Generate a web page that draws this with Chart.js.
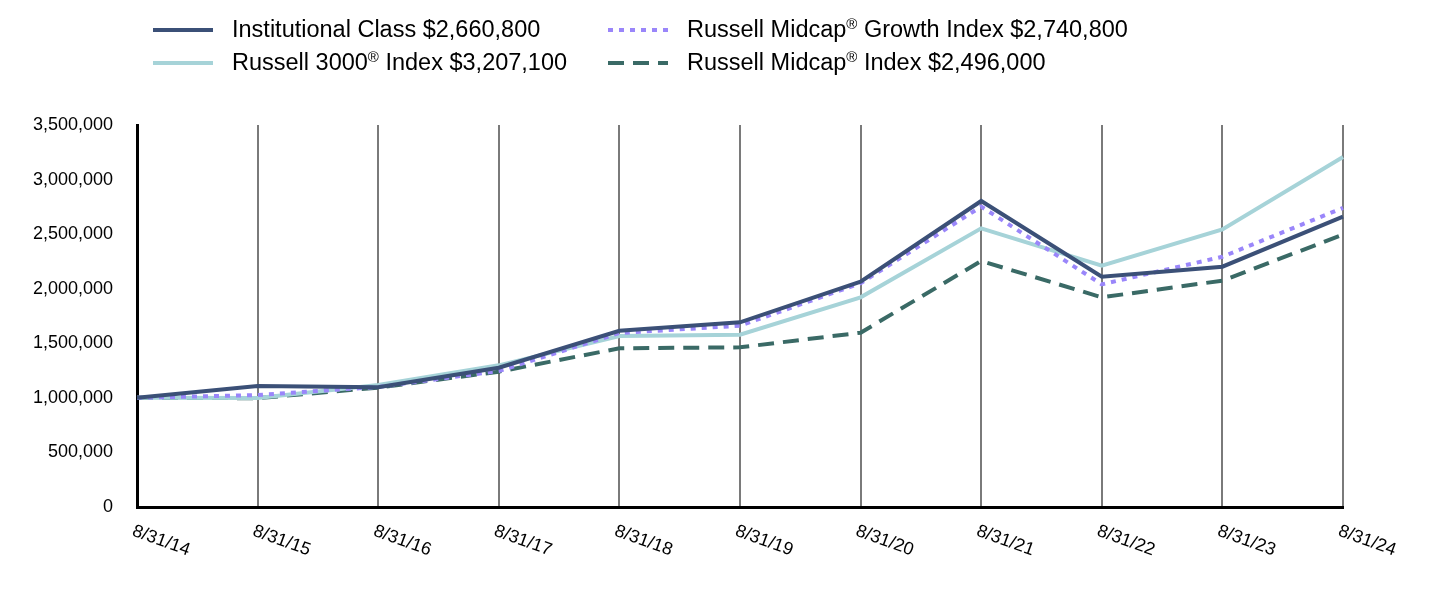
<!DOCTYPE html>
<html>
<head>
<meta charset="utf-8">
<script src="https://cdn.jsdelivr.net/npm/chart.js@4.4.1/dist/chart.umd.min.js"></script>
<style>
  html, body { margin: 0; padding: 0; background: #ffffff; }
  #wrap { position: relative; width: 1432px; height: 596px; }
  #chart { position: absolute; left: 0; top: 0; }
  .leg { position: absolute; font-family: "Liberation Sans", Arial, sans-serif; font-size: 23.5px; color: #000; white-space: nowrap; line-height: 1; }
  .leg sup { font-size: 15px; vertical-align: 0; position: relative; top: -8px; }
  .leg svg { position: absolute; }
</style>
</head>
<body>
<div id="wrap">
  <canvas id="chart" width="1432" height="596"></canvas>
</div>
<script>
// ---- data ----
const categories = ['8/31/14','8/31/15','8/31/16','8/31/17','8/31/18','8/31/19','8/31/20','8/31/21','8/31/22','8/31/23','8/31/24'];
const institutional = [1000000, 1109000, 1097000, 1276000, 1615000, 1692000, 2064000, 2804000, 2110000, 2202000, 2660800];
const russell3000   = [1000000,  998000, 1118000, 1298000, 1567000, 1579000, 1921000, 2553000, 2211000, 2544000, 3207100];
const midcapGrowth  = [1000000, 1026000, 1100000, 1246000, 1594000, 1661000, 2050000, 2752000, 2040000, 2293000, 2740800];
const midcap        = [1000000,  997000, 1094000, 1240000, 1454000, 1463000, 1597000, 2254000, 1921000, 2074000, 2496000];
const yTicks = [0, 500000, 1000000, 1500000, 2000000, 2500000, 3000000, 3500000];
const seriesNames = ['Institutional Class $2,660,800', 'Russell Midcap® Growth Index $2,740,800', 'Russell 3000® Index $3,207,100', 'Russell Midcap® Index $2,496,000'];

const COLORS = { inst: '#3b5077', r3000: '#a6d3d8', growth: '#9a86fa', midcap: '#3a6a66' };
const FONT = '"Liberation Sans", Arial, sans-serif';

// ---- legend (HTML, real text) ----
const legendItems = [
  { name: seriesNames[0], color: COLORS.inst,   dash: null,    col: 0, row: 0 },
  { name: seriesNames[2], color: COLORS.r3000,  dash: null,    col: 0, row: 1 },
  { name: seriesNames[1], color: COLORS.growth, dash: '5,6',   col: 1, row: 0 },
  { name: seriesNames[3], color: COLORS.midcap, dash: '16,9',  col: 1, row: 1 }
];
const colX = [153, 608];
const rowY = [29.5, 62.5];
const wrap = document.getElementById('wrap');
legendItems.forEach(it => {
  const d = document.createElement('div');
  d.className = 'leg';
  d.style.left = colX[it.col] + 'px';
  d.style.top = (rowY[it.row] - 12) + 'px';
  const svg = `<svg width="60" height="10" style="left:0;top:7px" xmlns="http://www.w3.org/2000/svg"><line x1="0" y1="5" x2="60" y2="5" stroke="${it.color}" stroke-width="4"${it.dash ? ` stroke-dasharray="${it.dash}"` : ''}/></svg>`;
  const label = it.name.replace('®', '<sup>®</sup>');
  d.innerHTML = svg + `<span style="position:absolute;left:79px;top:0">${label}</span>`;
  wrap.appendChild(d);
});

// ---- rotated x labels ----
const xLabelPlugin = {
  id: 'xLabels',
  afterDraw(chart) {
    const xs = chart.scales.x;
    const ctx = chart.ctx;
    ctx.save();
    ctx.font = '18px ' + FONT;
    ctx.fillStyle = '#000';
    ctx.textAlign = 'left';
    ctx.textBaseline = 'top';
    xs.ticks.forEach((t, i) => {
      const x = xs.getPixelForTick(i);
      ctx.save();
      ctx.translate(x - 1, 522);
      ctx.rotate(20 * Math.PI / 180);
      ctx.fillText(categories[i], 0, 0);
      ctx.restore();
    });
    ctx.restore();
  }
};

const common = { pointRadius: 0, pointHoverRadius: 0, tension: 0, fill: false, borderWidth: 4, borderCapStyle: 'butt', borderJoinStyle: 'miter' };

new Chart(document.getElementById('chart'), {
  type: 'line',
  data: {
    labels: categories,
    datasets: [
      Object.assign({ label: seriesNames[0], data: institutional, borderColor: COLORS.inst }, common),
      Object.assign({ label: seriesNames[1], data: midcapGrowth, borderColor: COLORS.growth, borderDash: [5, 6] }, common),
      Object.assign({ label: seriesNames[2], data: russell3000, borderColor: COLORS.r3000 }, common),
      Object.assign({ label: seriesNames[3], data: midcap, borderColor: COLORS.midcap, borderDash: [16, 9] }, common)
    ]
  },
  options: {
    responsive: false,
    animation: false,
    layout: { padding: { left: 0, right: 89, top: 125, bottom: 0 } },
    plugins: { legend: { display: false }, tooltip: { enabled: false } },
    scales: {
      x: {
        type: 'category',
        offset: false,
        grid: { display: true, color: '#7a7a7a', lineWidth: 2, drawTicks: false },
        border: { display: true, color: '#000', width: 3 },
        ticks: { display: false },
        afterFit(scale) { scale.height = 89; }
      },
      y: {
        min: 0,
        max: 3500000,
        afterBuildTicks(scale) { scale.ticks = yTicks.map(v => ({ value: v })); },
        grid: { display: false, drawTicks: false },
        border: { display: true, color: '#000', width: 3 },
        ticks: {
          padding: 24,
          color: '#000',
          font: { family: FONT, size: 18 },
          callback: v => Number(v).toLocaleString('en-US')
        },
        afterFit(scale) { scale.width = 137; }
      }
    }
  },
  plugins: [xLabelPlugin]
});
</script>
</body>
</html>
